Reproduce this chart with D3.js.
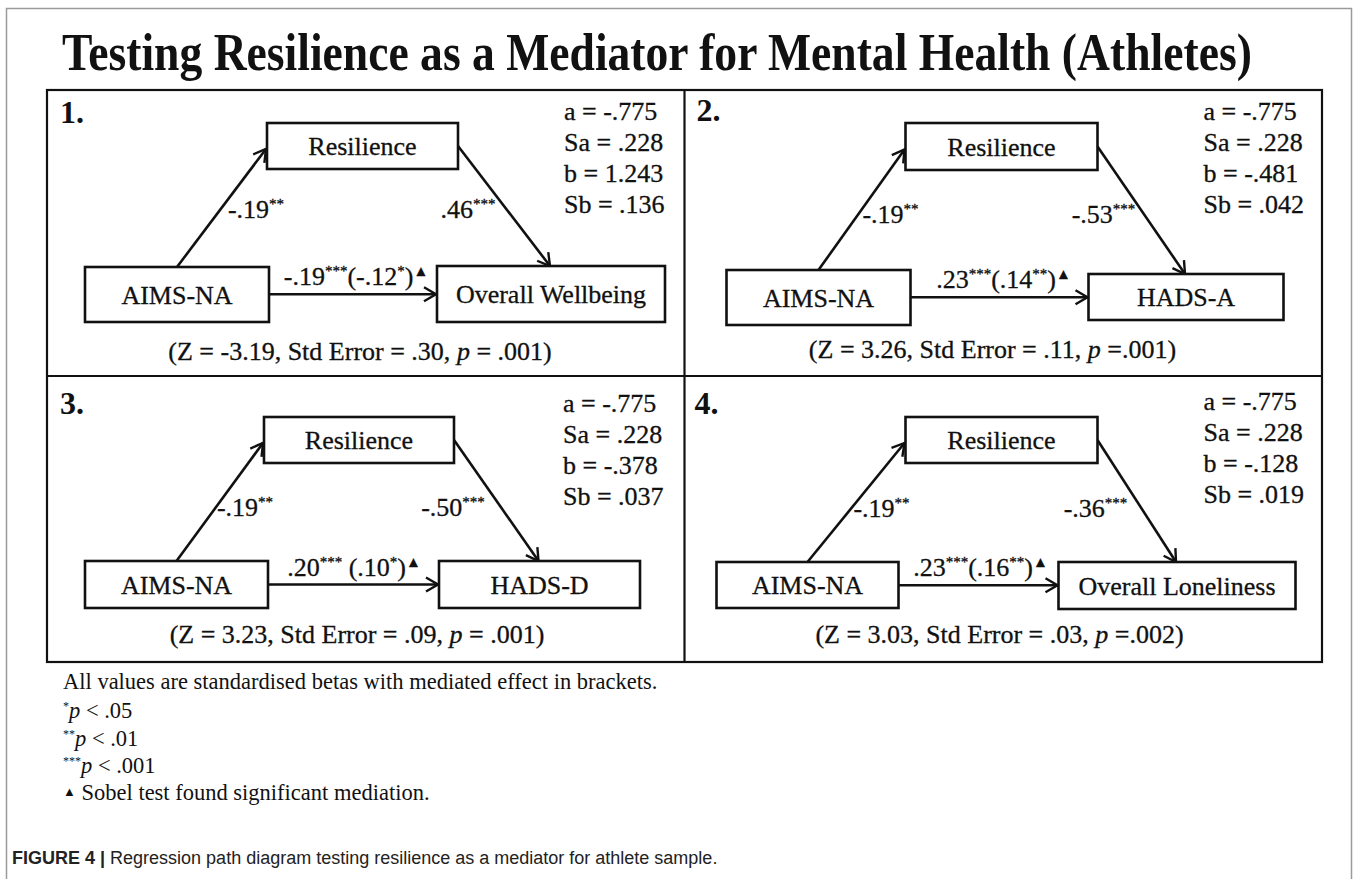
<!DOCTYPE html>
<html>
<head>
<meta charset="utf-8">
<script src="https://cdn.jsdelivr.net/npm/d3@7"></script>
<style>
  body { margin: 0; background: #fff; }
  text { font-family: "Liberation Serif", "Times New Roman", serif; fill: #111; }
  .ink { stroke: #111; stroke-width: 0.3; }
</style>
</head>
<body>
<svg id="chart"></svg>
<script>

var width = 1357;
var height = 879;

// Data
var panelLabels = ["1.", "2.", "3.", "4."];
var mediatorName = "Resilience";
var predictorName = "AIMS-NA";
var outcomeNames = ["Overall Wellbeing", "HADS-A", "HADS-D", "Overall Loneliness"];

var aBeta = ["-.19", "-.19", "-.19", "-.19"];
var aSig = ["**", "**", "**", "**"];
var bBeta = [".46", "-.53", "-.50", "-.36"];
var bSig = ["***", "***", "***", "***"];
var cBeta = ["-.19", ".23", ".20", ".23"];
var cSig = ["***", "***", "***", "***"];
var cSep = ["", "", " ", ""];
var cPrime = ["-.12", ".14", ".10", ".16"];
var cPrimeSig = ["*", "**", "*", "**"];

var statA = ["-.775", "-.775", "-.775", "-.775"];
var statSa = [".228", ".228", ".228", ".228"];
var statB = ["1.243", "-.481", "-.378", "-.128"];
var statSb = [".136", ".042", ".037", ".019"];

var sobelZ = ["-3.19", "3.26", "3.23", "3.03"];
var sobelSE = [".30", ".11", ".09", ".03"];
var sobelP = [".001", ".001", ".001", ".002"];
var sobelPSep = [" = ", " =", " = ", " ="];

var noteStars = ["*", "**", "***"];
var noteP = ["< .05", "< .01", "< .001"];

// layout of each panel, relative to the panel corner
var layout = [
  {lab: [13, 33], stat: [517, 30], res: [220, 33, 191, 46], pred: [38, 177, 184, 55], out: [390, 176, 228, 56], aL: [209, 128], bL: [421, 128], cX: 309, z: [313, 270]},
  {lab: [12, 31], stat: [519, 30], res: [221, 33, 192, 47], pred: [42, 180, 184, 55], out: [404, 184, 195, 46], aL: [206, 133], bL: [419, 133], cX: 319, z: [308, 268]},
  {lab: [13, 38], stat: [516, 36], res: [217, 41, 190, 46], pred: [38, 185, 183, 47], out: [392, 185, 201, 47], aL: [198, 140], bL: [406, 140], cX: 307, z: [310, 267]},
  {lab: [10, 38], stat: [519, 34], res: [221, 41, 192, 46], pred: [32, 186, 182, 46], out: [374, 186, 237, 47], aL: [197, 141], bL: [411, 141], cX: 296, z: [315, 267]}
];

var svg = d3.select("#chart")
  .attr("width", width)
  .attr("height", height);

svg.append("defs").append("marker")
  .attr("id", "arrow")
  .attr("markerUnits", "userSpaceOnUse")
  .attr("viewBox", "-14 -9 16 18")
  .attr("refX", 0)
  .attr("refY", 0)
  .attr("markerWidth", 16)
  .attr("markerHeight", 18)
  .attr("orient", "auto")
  .append("path")
  .attr("d", "M-12,-7L0,0L-12,7")
  .attr("fill", "none")
  .attr("stroke", "#111")
  .attr("stroke-width", 2.4);

// outer grey frame
svg.append("rect")
  .attr("x", 6.5).attr("y", 8.5)
  .attr("width", 1345).attr("height", 900)
  .attr("fill", "none")
  .attr("stroke", "#9a9a9a")
  .attr("stroke-width", 1.5);

// title, squeezed to the width it has in the figure
var title = svg.append("text")
  .attr("font-size", 53)
  .attr("font-weight", "bold")
  .text("Testing Resilience as a Mediator for Mental Health (Athletes)");
var titleLen = title.node().getComputedTextLength();
title.attr("transform", "translate(62,70) scale(" + (1190 / titleLen) + ",1)");

// panel grid
var col = d3.scaleBand().domain([0, 1]).range([47, 1322]);
var row = d3.scaleBand().domain([0, 1]).range([90, 662]);

var grid = svg.append("g")
  .attr("fill", "none")
  .attr("stroke", "#111")
  .attr("stroke-width", 2.2);

grid.append("rect")
  .attr("x", col(0)).attr("y", row(0))
  .attr("width", col.bandwidth() * 2).attr("height", row.bandwidth() * 2);
grid.append("line")
  .attr("x1", col(1)).attr("x2", col(1))
  .attr("y1", row(0)).attr("y2", row(1) + row.bandwidth());
grid.append("line")
  .attr("x1", col(0)).attr("x2", col(1) + col.bandwidth())
  .attr("y1", row(1)).attr("y2", row(1));

// text with superscripts: parts = [[text, sup?, italic?], ...]
function richText(sel, parts, supSize) {
  var sup = false;
  parts.forEach(function(p) {
    var t = sel.append("tspan").text(p[0]);
    if (p[1] && !sup) { t.attr("dy", -9).attr("font-size", supSize); sup = true; }
    else if (p[1]) { t.attr("font-size", supSize); }
    else if (sup) { t.attr("dy", 9); sup = false; }
    if (p[2]) t.attr("font-style", "italic");
  });
}

function box(g, r, label) {
  g.append("rect")
    .attr("x", r[0]).attr("y", r[1])
    .attr("width", r[2]).attr("height", r[3])
    .attr("fill", "#fff")
    .attr("stroke", "#111")
    .attr("stroke-width", 2.6);
  g.append("text")
    .attr("class", "ink")
    .attr("x", r[0] + r[2] / 2)
    .attr("y", r[1] + r[3] / 2 + 9)
    .attr("text-anchor", "middle")
    .attr("font-size", 26)
    .text(label);
}

panelLabels.forEach(function(lab, i) {
  var L = layout[i];
  var g = svg.append("g")
    .attr("transform", "translate(" + col(i % 2) + "," + row(Math.floor(i / 2)) + ")");

  g.append("text")
    .attr("x", L.lab[0]).attr("y", L.lab[1])
    .attr("font-size", 32)
    .attr("font-weight", "bold")
    .text(lab);

  var stats = ["a = " + statA[i], "Sa = " + statSa[i], "b = " + statB[i], "Sb = " + statSb[i]];
  g.selectAll(".stat")
    .data(stats)
    .enter().append("text")
    .attr("class", "stat ink")
    .attr("x", L.stat[0])
    .attr("y", function(d, k) { return L.stat[1] + k * 31; })
    .attr("font-size", 26)
    .text(function(d) { return d; });

  var res = L.res, pred = L.pred, out = L.out;
  var cY = (pred[1] + pred[3] / 2 + out[1] + out[3] / 2) / 2;

  var paths = [
    [[pred[0] + pred[2] / 2, pred[1]], [res[0], res[1] + res[3] / 2 + 3]],
    [[res[0] + res[2], res[1] + res[3] / 2], [out[0] + out[2] / 2, out[1]]],
    [[pred[0] + pred[2], cY], [out[0], cY]]
  ];
  g.selectAll(".path")
    .data(paths)
    .enter().append("line")
    .attr("class", "path")
    .attr("x1", function(d) { return d[0][0]; })
    .attr("y1", function(d) { return d[0][1]; })
    .attr("x2", function(d) { return d[1][0] - 1; })
    .attr("y2", function(d) { return d[1][1]; })
    .attr("stroke", "#111")
    .attr("stroke-width", 2.6)
    .attr("marker-end", "url(#arrow)");

  box(g, res, mediatorName);
  box(g, pred, predictorName);
  box(g, out, outcomeNames[i]);

  richText(g.append("text").attr("class", "ink")
    .attr("x", L.aL[0]).attr("y", L.aL[1])
    .attr("text-anchor", "middle").attr("font-size", 26),
    [[aBeta[i]], [aSig[i], true]], 15);

  richText(g.append("text").attr("class", "ink")
    .attr("x", L.bL[0]).attr("y", L.bL[1])
    .attr("text-anchor", "middle").attr("font-size", 26),
    [[bBeta[i]], [bSig[i], true]], 15);

  richText(g.append("text").attr("class", "ink")
    .attr("x", L.cX).attr("y", cY - 9)
    .attr("text-anchor", "middle").attr("font-size", 26),
    [[cBeta[i]], [cSig[i], true], [cSep[i] + "(" + cPrime[i]], [cPrimeSig[i], true], [")"], ["\u25B2", true]], 15);

  richText(g.append("text").attr("class", "ink")
    .attr("x", L.z[0]).attr("y", L.z[1])
    .attr("text-anchor", "middle").attr("font-size", 26),
    [["(Z = " + sobelZ[i] + ", Std Error = " + sobelSE[i] + ", "], ["p", false, true], [sobelPSep[i] + sobelP[i] + ")"]], 26);
});

// footnotes
var notes = svg.append("g");
notes.append("text")
  .attr("x", 63).attr("y", 689)
  .attr("font-size", 22.5)
  .text("All values are standardised betas with mediated effect in brackets.");

noteStars.forEach(function(s, k) {
  var t = notes.append("text")
    .attr("x", 63).attr("y", 718 + k * 27.5)
    .attr("font-size", 22.5);
  t.append("tspan").attr("dy", -8).attr("font-size", 12).text(s);
  t.append("tspan").attr("dy", 8).attr("font-style", "italic").text("p");
  t.append("tspan").text(" " + noteP[k]);
});

var sobel = notes.append("text")
  .attr("x", 63).attr("y", 800)
  .attr("font-size", 22.5);
sobel.append("tspan").attr("font-size", 13).attr("dy", -4).text("\u25B2");
sobel.append("tspan").attr("dy", 4).text(" Sobel test found significant mediation.");

// caption
var cap = svg.append("text")
  .attr("x", 12).attr("y", 864)
  .style("font-family", "'Liberation Sans', Arial, sans-serif")
  .attr("font-size", 18)
  .style("fill", "#222");
cap.append("tspan").attr("font-weight", "bold").text("FIGURE 4 | ");
cap.append("tspan").text("Regression path diagram testing resilience as a mediator for athlete sample.");

</script>
</body>
</html>
